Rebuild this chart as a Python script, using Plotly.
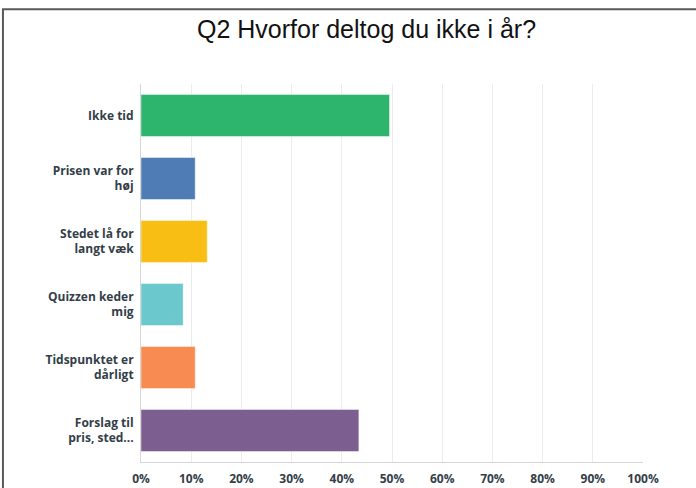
import plotly.graph_objects as go

categories = ["Ikke tid", "Prisen var for<br>høj", "Stedet lå for<br>langt væk",
              "Quizzen keder<br>mig", "Tidspunktet er<br>dårligt", "Forslag til<br>pris, sted..."]
values = [49.5, 10.8, 13.2, 8.4, 10.8, 43.4]
colors = ["#2db56e", "#507cb6", "#f9be14", "#6bc8cd", "#f78b52", "#7d5e90"]
x_ticks = [0, 10, 20, 30, 40, 50, 60, 70, 80, 90, 100]
x_tick_labels = ["0%", "10%", "20%", "30%", "40%", "50%", "60%", "70%", "80%", "90%", "100%"]

ids = list(range(len(categories)))

fig = go.Figure()
fig.add_trace(go.Bar(
    x=values, y=ids, orientation="h",
    marker=dict(color=colors, line=dict(color="rgba(255,255,255,0.45)", width=1)),
    hoverinfo="x+y",
))

fig.update_layout(
    width=696, height=488,
    margin=dict(l=141, r=53, t=84, b=26, autoexpand=False),
    paper_bgcolor="white", plot_bgcolor="white",
    bargap=0.333,
    showlegend=False,
    font=dict(family="Open Sans", color="#333e48"),
    annotations=[dict(
        text="Q2 Hvorfor deltog du ikke i år?", xref="paper", yref="paper",
        x=0.45, y=1.1455, xanchor="center", yanchor="middle", showarrow=False,
        font=dict(family="Liberation Sans", size=25, color="#111111"))],
    shapes=[dict(type="rect", xref="paper", yref="paper",
                 x0=-0.275, x1=1.3, y0=-0.3, y1=1.198,
                 line=dict(color="#5a5a5a", width=2), layer="below")],
)
fig.update_xaxes(
    range=[0, 100], tickvals=x_ticks,
    ticktext=["<b>%s</b>" % t for t in x_tick_labels],
    showgrid=True, gridcolor="#ececec", gridwidth=1,
    showline=True, linecolor="#d6d6d6", linewidth=1,
    zeroline=False, ticks="", ticklabelstandoff=6, automargin=False,
    tickfont=dict(size=12, color="#333e48"), fixedrange=True,
)
fig.update_yaxes(
    tickvals=ids, ticktext=["<b>%s</b>" % c for c in categories],
    autorange="reversed", automargin=False,
    showline=True, linecolor="#d6d6d6", linewidth=1,
    showgrid=False, zeroline=False, ticks="", ticklabelstandoff=4,
    tickfont=dict(size=12, color="#333e48"), fixedrange=True,
)

fig.write_html("out.html", config={"displayModeBar": False},
               post_script="document.body.style.margin='0';")
